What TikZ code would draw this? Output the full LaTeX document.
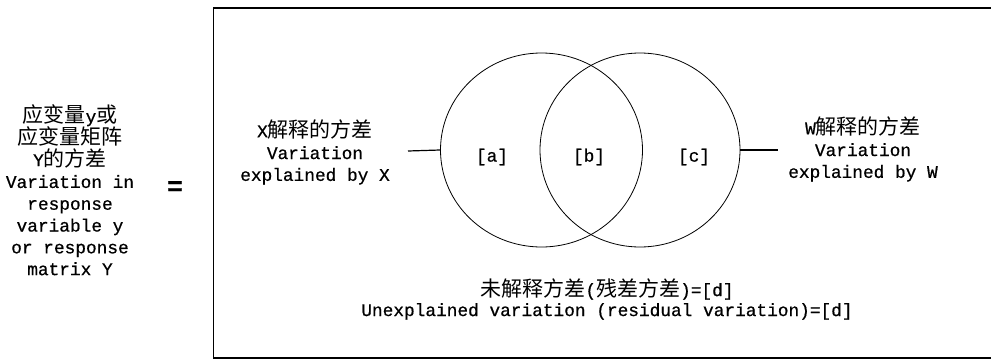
\documentclass[tikz,border=0pt]{standalone}
\usepackage{fontspec}
\setmainfont[FakeBold=0.7]{Liberation Mono}
\newfontfamily\cjk[Scale=1.18]{Noto Sans CJK SC}
\usetikzlibrary{shapes.geometric}
\tikzset{
  lbl/.style={align=center, inner sep=0pt, font=\fontsize{17.8}{21.8}\selectfont},
  venn/.style={draw, ellipse, line width=0.8pt, inner sep=0pt},
  conn/.style={line width=1.2pt},
  frame/.style={line width=1.8pt}
}
\begin{document}
\begin{tikzpicture}[x=1pt,y=-1pt]
\useasboundingbox (0,0) rectangle (991,359);
% frame (open on the right)
\draw[frame] (995,8) -- (213.5,8) -- (213.5,358) -- (995,358);
% left text
\node[lbl] (lhs) at (70,190) {{\cjk 应变量}y{\cjk 或}\\{\cjk 应变量矩阵}\\Y{\cjk 的方差}\\Variation in\\response\\variable y\\or response\\matrix Y};
\node[inner sep=0pt, font=\fontsize{26}{26}\bfseries\selectfont] (eq) at (175,188) {=};
% circles
\node[venn, minimum width=202pt, minimum height=194pt] (cx) at (541.5,150) {};
\node[venn, minimum width=200pt, minimum height=194pt] (cw) at (640,150) {};
\node[lbl] (a) at (492,157) {[a]};
\node[lbl] (b) at (589,157) {[b]};
\node[lbl] (c) at (694,157) {[c]};
% side labels
\node[lbl] (xlab) at (315,152) {X{\cjk 解释的方差}\\Variation\\explained by X};
\node[lbl] (wlab) at (863,149) {W{\cjk 解释的方差}\\Variation\\explained by W};
\coordinate (xl) at (408,151);
\coordinate (wl) at (778,150);
\draw[conn] (xl) -- (cx.west);
\draw[conn] (cw.east) -- (wl);
% bottom label
\node[lbl, font=\fontsize{17.8}{20}\selectfont] (d) at (607,299) {{\cjk 未解释方差}({\cjk 残差方差})=[d]\\Unexplained variation (residual variation)=[d]};
\end{tikzpicture}
\end{document}
